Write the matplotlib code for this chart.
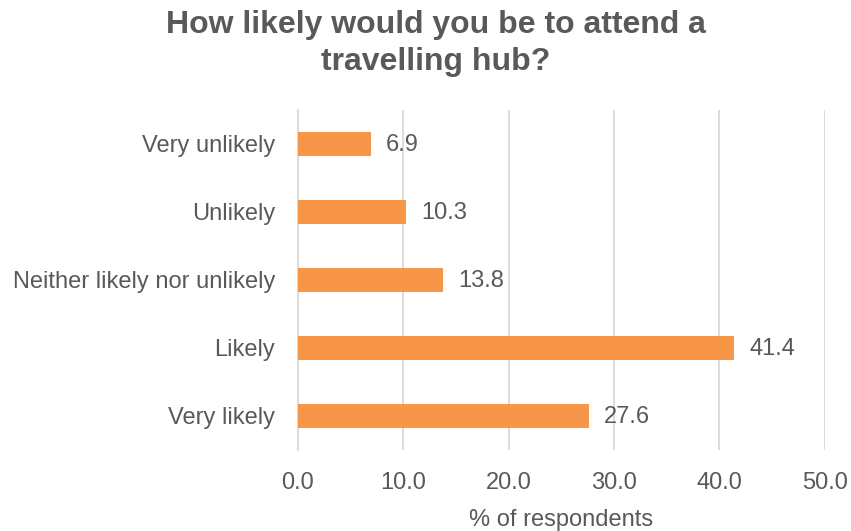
import matplotlib
matplotlib.use("Agg")
import matplotlib.pyplot as plt

plt.rcParams['font.family'] = ['Liberation Sans', 'DejaVu Sans']

categories = ["Very unlikely", "Unlikely", "Neither likely nor unlikely", "Likely", "Very likely"]
values = [6.9, 10.3, 13.8, 41.4, 27.6]
xticks = [0, 10, 20, 30, 40, 50]

text_color = "#595959"
bar_color = "#F79646"
grid_color = "#D9D9D9"

fig = plt.figure(figsize=(8.51, 5.31), dpi=100)
ax = fig.add_axes([0.350, 0.153, 0.619, 0.640])

ypos = list(range(len(categories)))
ax.barh(ypos, values, height=0.35, color=bar_color, zorder=3)
ax.set_yticks(ypos)
ax.set_yticklabels(categories)
ax.set_ylim(len(categories) - 0.5, -0.5)

ax.set_xlim(0, 50)
ax.set_xticks(xticks)
ax.set_xticklabels([f"{t:.1f}" for t in xticks])

for y, v in zip(ypos, values):
    ax.text(v + 1.45, y + 0.02, f"{v:.1f}", va="center", ha="left",
            fontsize=17, color=text_color)

ax.grid(axis="x", color=grid_color, linewidth=1.3, zorder=0)
for side in ["top", "right", "bottom"]:
    ax.spines[side].set_visible(False)
ax.spines["left"].set_color(grid_color)
ax.spines["left"].set_linewidth(1.3)
ax.tick_params(axis="both", length=0, labelsize=17, labelcolor=text_color)
ax.tick_params(axis="x", pad=16)
ax.tick_params(axis="y", pad=16.5)

ax.set_xlabel("% of respondents", fontsize=17, color=text_color, labelpad=11)

fig.suptitle("How likely would you be to attend a\ntravelling hub?", x=0.512, y=0.982,
             fontsize=23, fontweight="bold", color=text_color, linespacing=1.32)

fig.savefig("out.png", dpi=100, facecolor="white")
